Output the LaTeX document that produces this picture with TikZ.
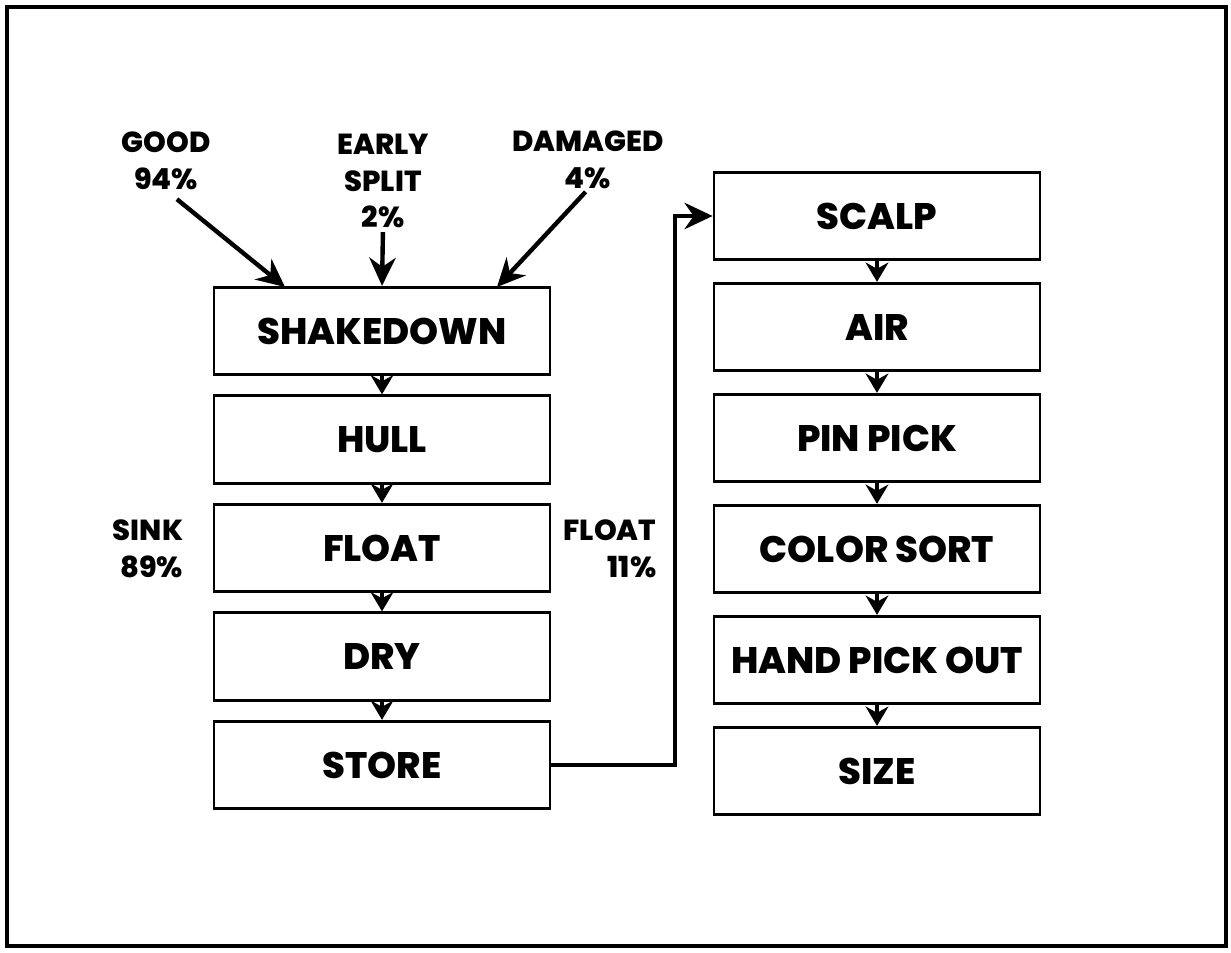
\documentclass[tikz,border=0pt]{standalone}
\usepackage{fontspec}
\IfFontExistsTF{Poppins ExtraBold}
  {\setmainfont{Poppins}[BoldFont={Poppins ExtraBold}]}
  {\setmainfont{Poppins}[BoldFeatures={FakeBold=1.2}]}
\usepackage{tikz}
\usetikzlibrary{arrows.meta}

\begin{document}
\begin{tikzpicture}[
    x=0.02cm, y=-0.02cm,
    stepbox/.style={draw, rectangle, line width=1.6pt, minimum height=1.75cm, inner sep=2pt, align=center, font=\fontsize{21}{25}\selectfont\bfseries},
    leftbox/.style={stepbox, minimum width=6.72cm},
    rightbox/.style={stepbox, minimum width=6.52cm},
    lbl/.style={align=center, inner sep=0pt, font=\fontsize{16.5}{21}\selectfont\bfseries},
    arrow/.style={-{Stealth[length=16pt, width=15pt]}, line width=2.5pt},
    flow/.style={-{Stealth[length=11pt, width=13pt]}, line width=1.8pt}
]
\useasboundingbox (0,0) rectangle (1231,953);
\draw[line width=2.2pt] (7,7) rectangle (1226,946);

% incoming material
\node[lbl] (good) at (166,161) {GOOD\\94\%};
\node[lbl] (early) at (383,181) {EARLY\\SPLIT\\2\%};
\node[lbl] (damaged) at (588,160) {DAMAGED\\4\%};

% left column
\node[leftbox] (shake) at (382,331) {SHAKEDOWN};
\node[leftbox] (hull) at (382,439.5) {HULL};
\node[leftbox] (float) at (382,548) {FLOAT};
\node[leftbox] (dry) at (382,656.5) {DRY};
\node[leftbox] (store) at (382,765) {STORE};

\node[lbl, align=right] (sink) at (148,549) {SINK\\89\%};
\node[lbl, align=right] (floated) at (610,549) {FLOAT\\11\%};

% right column
\node[rightbox] (scalp) at (877,216) {SCALP};
\node[rightbox] (air) at (877,327) {AIR};
\node[rightbox] (pinpick) at (877,438) {PIN PICK};
\node[rightbox] (colorsort) at (877,549) {COLOR SORT};
\node[rightbox] (handpick) at (877,660) {HAND PICK OUT};
\node[rightbox] (size) at (877,771) {SIZE};

\coordinate (goodin) at (285,287);
\coordinate (damin) at (497,287);
\coordinate (turn) at (675,0);

\draw[arrow, shorten <=8pt] (good.south) -- (goodin);
\draw[arrow, shorten <=2pt] (early.south) -- (shake.north);
\draw[arrow, shorten <=2pt] (damaged.south) -- (damin);

\draw[flow] (shake) -- (hull);
\draw[flow] (hull) -- (float);
\draw[flow] (float) -- (dry);
\draw[flow] (dry) -- (store);

\draw[arrow] (store.east) -- (store.east -| turn) |- (scalp.west);

\draw[flow] (scalp) -- (air);
\draw[flow] (air) -- (pinpick);
\draw[flow] (pinpick) -- (colorsort);
\draw[flow] (colorsort) -- (handpick);
\draw[flow] (handpick) -- (size);

\end{tikzpicture}
\end{document}
